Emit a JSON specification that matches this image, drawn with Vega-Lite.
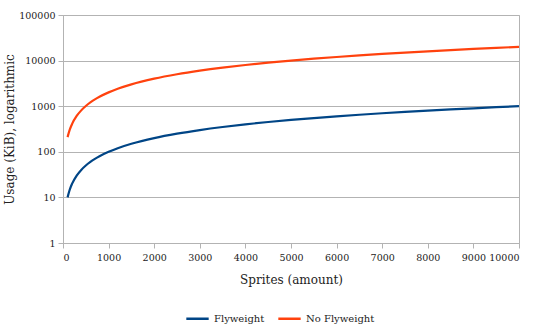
{
  "$schema": "https://vega.github.io/schema/vega-lite/v6.json",
  "width": 456,
  "height": 228,
  "autosize": {"type": "none"},
  "padding": {"left": 63, "top": 15, "right": 16, "bottom": 82},
  "background": "white",
  "config": {
    "font": "DejaVu Serif",
    "view": {"stroke": "#b3b3b3", "strokeWidth": 1},
    "axis": {"labelFont": "DejaVu Serif", "titleFont": "DejaVu Serif", "labelFontSize": 9.5, "titleFontSize": 12, "titleFontWeight": "normal", "labelColor": "#222", "titleColor": "#222", "domainColor": "#b3b3b3", "tickColor": "#b3b3b3", "gridColor": "#b3b3b3", "tickSize": 5},
    "legend": {"labelFont": "DejaVu Serif", "labelFontSize": 10, "labelColor": "#222"}
  },
  "data": {"values": [
    {"x":100,"s":"Flyweight","y":10},{"x":150,"s":"Flyweight","y":15},{"x":200,"s":"Flyweight","y":20},{"x":300,"s":"Flyweight","y":30},{"x":400,"s":"Flyweight","y":40},{"x":500,"s":"Flyweight","y":50},{"x":600,"s":"Flyweight","y":60},{"x":700,"s":"Flyweight","y":70},{"x":800,"s":"Flyweight","y":80},{"x":1000,"s":"Flyweight","y":100},{"x":1200,"s":"Flyweight","y":120},{"x":1500,"s":"Flyweight","y":150},{"x":2000,"s":"Flyweight","y":200},{"x":2500,"s":"Flyweight","y":250},{"x":3000,"s":"Flyweight","y":300},{"x":3500,"s":"Flyweight","y":350},{"x":4000,"s":"Flyweight","y":400},{"x":4500,"s":"Flyweight","y":450},{"x":5000,"s":"Flyweight","y":500},{"x":5500,"s":"Flyweight","y":550},{"x":6000,"s":"Flyweight","y":600},{"x":6500,"s":"Flyweight","y":650},{"x":7000,"s":"Flyweight","y":700},{"x":7500,"s":"Flyweight","y":750},{"x":8000,"s":"Flyweight","y":800},{"x":8500,"s":"Flyweight","y":850},{"x":9000,"s":"Flyweight","y":900},{"x":9500,"s":"Flyweight","y":950},{"x":10000,"s":"Flyweight","y":1000},
    {"x":100,"s":"No Flyweight","y":210},{"x":150,"s":"No Flyweight","y":310},{"x":200,"s":"No Flyweight","y":410},{"x":300,"s":"No Flyweight","y":610},{"x":400,"s":"No Flyweight","y":810},{"x":500,"s":"No Flyweight","y":1010},{"x":600,"s":"No Flyweight","y":1210},{"x":700,"s":"No Flyweight","y":1410},{"x":800,"s":"No Flyweight","y":1610},{"x":1000,"s":"No Flyweight","y":2010},{"x":1200,"s":"No Flyweight","y":2410},{"x":1500,"s":"No Flyweight","y":3010},{"x":2000,"s":"No Flyweight","y":4010},{"x":2500,"s":"No Flyweight","y":5010},{"x":3000,"s":"No Flyweight","y":6010},{"x":3500,"s":"No Flyweight","y":7010},{"x":4000,"s":"No Flyweight","y":8010},{"x":4500,"s":"No Flyweight","y":9010},{"x":5000,"s":"No Flyweight","y":10010},{"x":5500,"s":"No Flyweight","y":11010},{"x":6000,"s":"No Flyweight","y":12010},{"x":6500,"s":"No Flyweight","y":13010},{"x":7000,"s":"No Flyweight","y":14010},{"x":7500,"s":"No Flyweight","y":15010},{"x":8000,"s":"No Flyweight","y":16010},{"x":8500,"s":"No Flyweight","y":17010},{"x":9000,"s":"No Flyweight","y":18010},{"x":9500,"s":"No Flyweight","y":19010},{"x":10000,"s":"No Flyweight","y":20010}
  ]},
  "mark": {"type": "line", "strokeWidth": 2.2, "interpolate": "monotone"},
  "encoding": {
    "x": {"field": "x", "type": "quantitative", "scale": {"domain": [0, 10000], "nice": false}, "axis": {"title": "Sprites (amount)", "values": [0,1000,2000,3000,4000,5000,6000,7000,8000,9000,10000], "format": "d", "grid": false, "titlePadding": 13, "labelPadding": 4}},
    "y": {"field": "y", "type": "quantitative", "scale": {"type": "log", "domain": [1, 100000], "nice": false}, "axis": {"title": "Usage (KiB), logarithmic", "values": [1,10,100,1000,10000,100000], "format": "d", "titlePadding": 2, "labelPadding": 3}},
    "color": {"field": "s", "type": "nominal", "scale": {"domain": ["Flyweight", "No Flyweight"], "range": ["#004586", "#ff420e"]}, "legend": {"title": null, "orient": "none", "legendX": 122, "legendY": 291, "direction": "horizontal", "symbolType": "stroke", "symbolStrokeWidth": 2.5, "symbolSize": 500, "columnPadding": 8, "labelOffset": 4}}
  }
}
